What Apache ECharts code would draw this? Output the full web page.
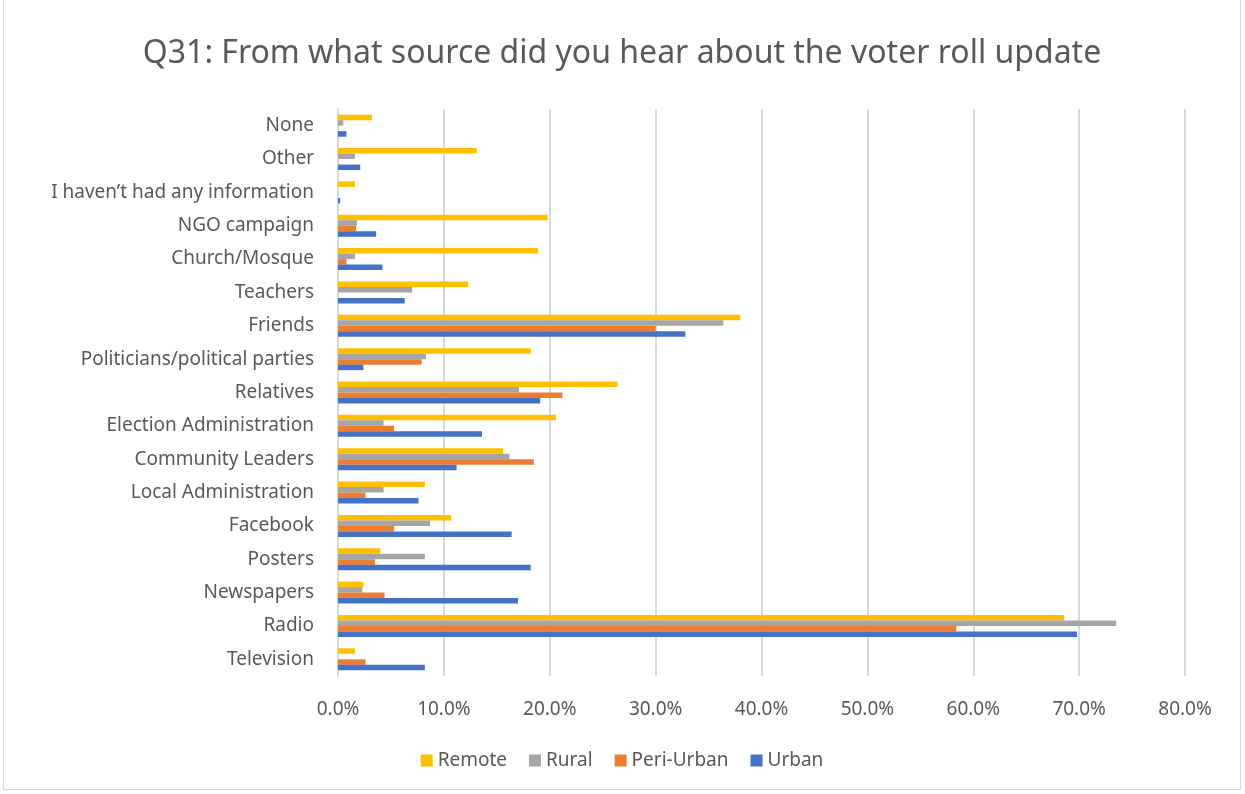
<!DOCTYPE html>
<html>
<head>
<meta charset="utf-8">
<script src="https://cdn.jsdelivr.net/npm/echarts@6/dist/echarts.min.js"></script>
<style>
  html, body { margin: 0; padding: 0; background: #fff; }
  #main { position: absolute; left: 3px; top: 0; width: 1238px; height: 790px; border: 1px solid #d9d9d9; border-top: none; box-sizing: border-box; }
</style>
</head>
<body>
<div id="main"></div>
<script>
// categories listed bottom to top (category axis starts at the bottom)
var categories = ['Television', 'Radio', 'Newspapers', 'Posters', 'Facebook', 'Local Administration',
  'Community Leaders', 'Election Administration', 'Relatives', 'Politicians/political parties',
  'Friends', 'Teachers', 'Church/Mosque', 'NGO campaign', 'I haven\u2019t had any information', 'Other', 'None'];

var urban     = [8.2, 69.8, 17.0, 18.2, 16.4, 7.6, 11.2, 13.6, 19.1, 2.4, 32.8, 6.3, 4.2, 3.6, 0.2, 2.1, 0.8];
var periUrban = [2.6, 58.4, 4.4, 3.5, 5.3, 2.6, 18.5, 5.3, 21.2, 7.9, 30.0, 0, 0.8, 1.7, 0, 0, 0];
var rural     = [0, 73.5, 2.3, 8.2, 8.7, 4.3, 16.2, 4.3, 17.1, 8.3, 36.4, 7.0, 1.6, 1.8, 0, 1.6, 0.5];
var remote    = [1.6, 68.6, 2.4, 4.0, 10.7, 8.2, 15.6, 20.6, 26.4, 18.2, 38.0, 12.3, 18.9, 19.8, 1.6, 13.1, 3.2];

var legendOrder = ['Remote', 'Rural', 'Peri-Urban', 'Urban'];

var font = 'Noto Sans';
var chart = echarts.init(document.getElementById('main'));

function bar(name, data, color) {
  return {
    name: name,
    type: 'bar',
    data: data,
    itemStyle: { color: color },
    barGap: '0%',
    barCategoryGap: '34%'
  };
}

chart.setOption({
  animation: false,
  title: {
    text: 'Q31: From what source did you hear about the voter roll update',
    left: 'center',
    top: 33,
    textStyle: { fontFamily: font, fontSize: 32, fontWeight: 'normal', color: '#595959' }
  },
  legend: {
    data: legendOrder,
    bottom: 14,
    left: 'center',
    itemWidth: 12,
    itemHeight: 12,
    itemGap: 22,
    icon: 'rect',
    textStyle: { fontFamily: font, fontSize: 19, color: '#595959' }
  },
  grid: { left: 334, right: 55, top: 109, bottom: 113 },
  xAxis: {
    type: 'value',
    min: 0,
    max: 80,
    interval: 10,
    axisLine: { show: false },
    axisTick: { show: false },
    axisLabel: {
      formatter: function (v) { return v.toFixed(1) + '%'; },
      fontFamily: font, fontSize: 19, color: '#595959', margin: 24
    },
    splitLine: { lineStyle: { color: '#d9d9d9', width: 2 } }
  },
  yAxis: {
    type: 'category',
    data: categories,
    axisLine: { lineStyle: { color: '#d9d9d9', width: 2 } },
    axisTick: { show: false },
    axisLabel: { fontFamily: font, fontSize: 19, color: '#595959', margin: 24 }
  },
  // series 0 sits at the top of each group
  series: [
    bar('Remote', remote, '#FFC000'),
    bar('Rural', rural, '#A5A5A5'),
    bar('Peri-Urban', periUrban, '#ED7D31'),
    bar('Urban', urban, '#4472C4')
  ]
});
</script>
</body>
</html>
